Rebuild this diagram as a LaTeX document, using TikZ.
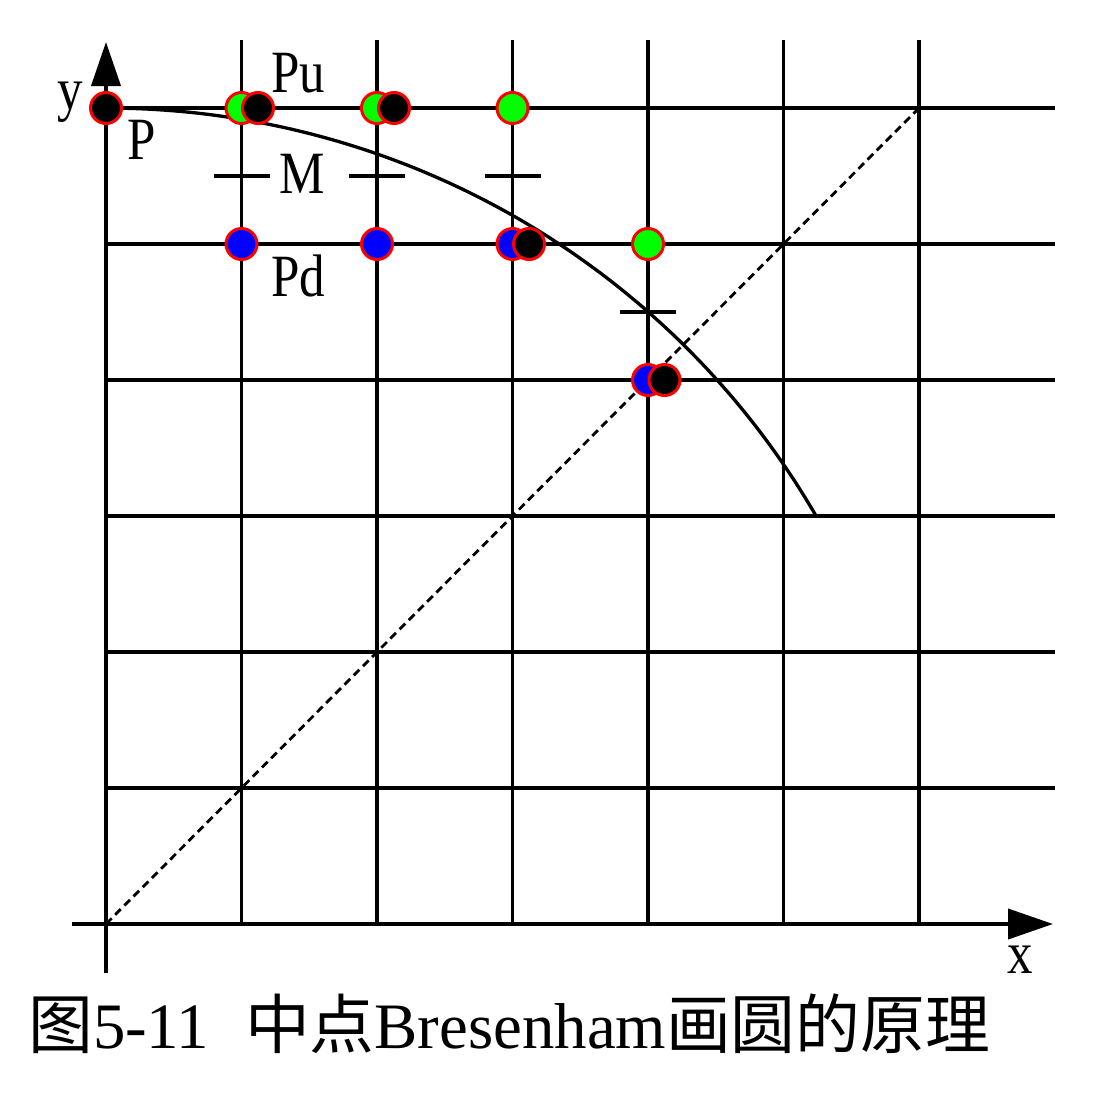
\documentclass[tikz,border=0pt]{standalone}
\usepackage{fontspec}
\usepackage{graphicx}
\setmainfont{Liberation Serif}
\newfontfamily\cjk{Noto Sans CJK SC}
\usetikzlibrary{arrows.meta}
\begin{document}
\begin{tikzpicture}[x=1pt,y=-1pt,
  gridline/.style={line width=3.3pt},
  axisline/.style={line width=4pt},
  dot/.style={circle, draw=red, line width=3pt, minimum size=31pt, inner sep=0pt},
  gdot/.style={dot, fill=green},
  bdot/.style={dot, fill=blue},
  kdot/.style={dot, fill=black},
  lbl/.style={inner sep=0pt, anchor=base, font=\fontsize{60}{60}\selectfont},
  midtick/.style={line width=3.3pt}]
\useasboundingbox (0,0) rectangle (1116,1101);
% horizontal grid lines
\foreach \yy in {108,244,380,516,652,788}
  \draw[gridline] (106,\yy) -- (1055,\yy);
% vertical grid lines
\foreach \xx in {241.5,377,512.5,648,783.5,919}
  \draw[gridline] (\xx,40) -- (\xx,924);
% axes
\coordinate (xs) at (72,924);
\coordinate (xe) at (1053,924);
\coordinate (ys) at (106,973);
\coordinate (ye) at (106,42);
\draw[axisline, -{Triangle[length=45pt,width=30pt]}] (xs) -- (xe);
\draw[axisline, -{Triangle[length=44pt,width=29pt]}] (ys) -- (ye);
% circle arc
\draw[line width=3.3pt] plot[domain=0:60, samples=80, smooth] ({106+820*sin(\x)}, {924-816*cos(\x)});
% diagonal
\draw[line width=2.8pt, dash pattern=on 8pt off 5pt] (106,924) -- (919,108);
% midpoint ticks
\draw[midtick] (214,176) -- (270,176);
\draw[midtick] (349,176) -- (405,176);
\draw[midtick] (485,176) -- (541,176);
\draw[midtick] (620,312) -- (676,312);
% dots
\node[kdot] (p0) at (106,108) {};
\node[gdot] (g1) at (241.5,108) {};
\node[kdot] (k1) at (258,108) {};
\node[bdot] (b1) at (241.5,244) {};
\node[gdot] (g2) at (377,108) {};
\node[kdot] (k2) at (394,108) {};
\node[bdot] (b2) at (377,244) {};
\node[gdot] (g3) at (512.5,108) {};
\node[bdot] (b3) at (512.5,244) {};
\node[kdot] (k3) at (529,244) {};
\node[gdot] (g4) at (648,244) {};
\node[bdot] (b4) at (648,380) {};
\node[kdot] (k4) at (664.5,380) {};
% labels
\node[lbl] (ly) at (70,109) {\scalebox{0.85}[1]{y}};
\node[lbl] (lp) at (142,159) {\scalebox{0.85}[1]{P}};
\node[lbl] (lpu) at (298,92) {\scalebox{0.85}[1]{Pu}};
\node[lbl] (lm) at (302,193) {\scalebox{0.85}[1]{M}};
\node[lbl] (lpd) at (298,296) {\scalebox{0.85}[1]{Pd}};
\node[lbl] (lx) at (1020,973) {\scalebox{0.85}[1]{x}};
% caption
\node[anchor=base west, inner sep=0pt] (cap) at (28,1048) {\resizebox{962pt}{!}{\fontsize{66}{66}\selectfont{\cjk 图}5-11\hspace{0.55em}{\cjk 中点}Bresenham{\cjk 画圆的原理}}};
\end{tikzpicture}
\end{document}
